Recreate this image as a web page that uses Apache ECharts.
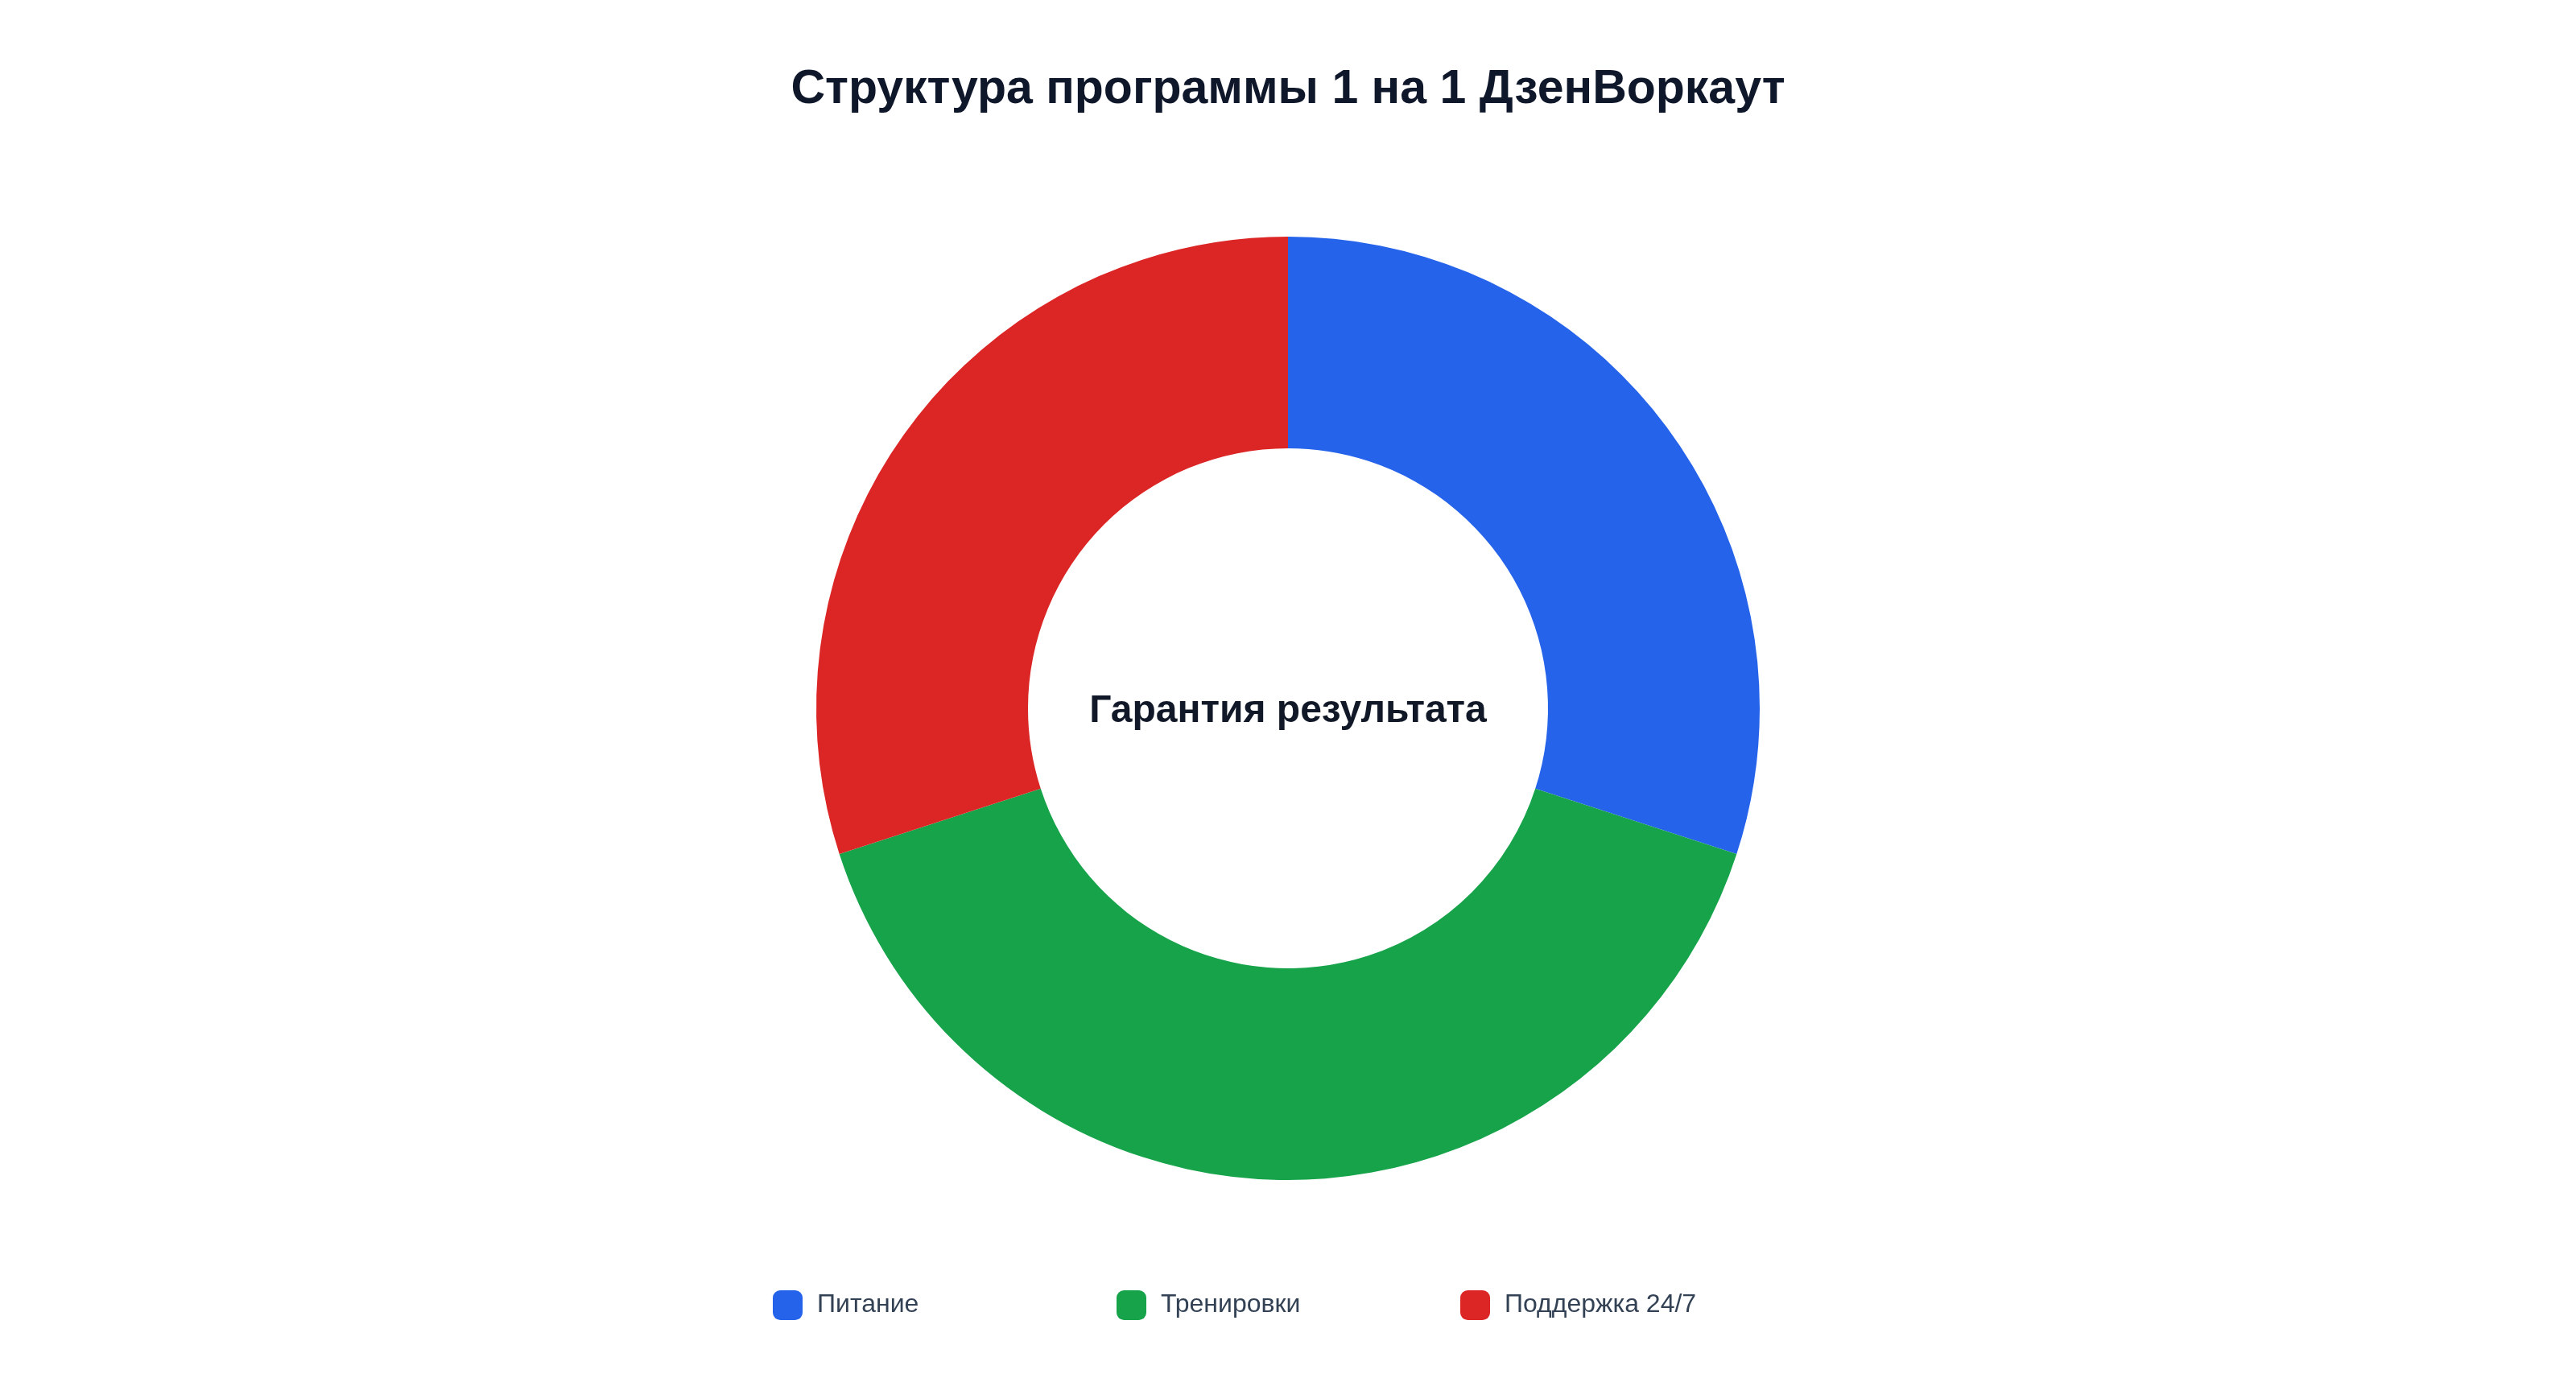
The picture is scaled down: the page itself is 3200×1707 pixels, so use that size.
<!DOCTYPE html>
<html>
<head>
<meta charset="utf-8">
<script src="https://cdn.jsdelivr.net/npm/echarts@6/dist/echarts.min.js"></script>
<style>
html,body{margin:0;padding:0;background:#fff;}
#chart{width:3200px;height:1707px;}
</style>
</head>
<body>
<div id="chart"></div>
<script>
const titleText = 'Структура программы 1 на 1 ДзенВоркаут';
const centerText = 'Гарантия результата';
const categories = ['Питание', 'Тренировки', 'Поддержка 24/7'];
const values = [30, 40, 30];
const colors = ['#2563eb', '#16a34a', '#dc2626'];

const FONT = '"Liberation Sans", Arial, sans-serif';
const legendLefts = [955, 1382, 1809];
const chart = echarts.init(document.getElementById('chart'));
chart.setOption({
  backgroundColor: '#ffffff',
  animation: false,
  title: {
    text: titleText,
    left: 'center',
    top: 77,
    textStyle: { fontFamily: FONT, fontSize: 59, fontWeight: 'bold', color: '#0f172a' }
  },
  legend: categories.map((c, i) => ({
    data: [c],
    orient: 'horizontal',
    left: legendLefts[i],
    top: 1598,
    itemWidth: 37,
    itemHeight: 37,
    icon: 'roundRect',
    textStyle: { fontFamily: FONT, fontSize: 32, color: '#334155', padding: [0, 0, 0, 13] }
  })),
  graphic: [{
    type: 'text',
    left: 'center',
    top: 860,
    style: { text: centerText, font: 'bold 48px ' + FONT, fill: '#111827' }
  }],
  series: [{
    type: 'pie',
    center: [1600, 880],
    radius: [323, 586],
    startAngle: 90,
    clockwise: true,
    label: { show: false },
    labelLine: { show: false },
    emphasis: { disabled: true },
    itemStyle: { borderWidth: 0 },
    data: categories.map((c, i) => ({ name: c, value: values[i], itemStyle: { color: colors[i] } }))
  }]
});
</script>
</body>
</html>
